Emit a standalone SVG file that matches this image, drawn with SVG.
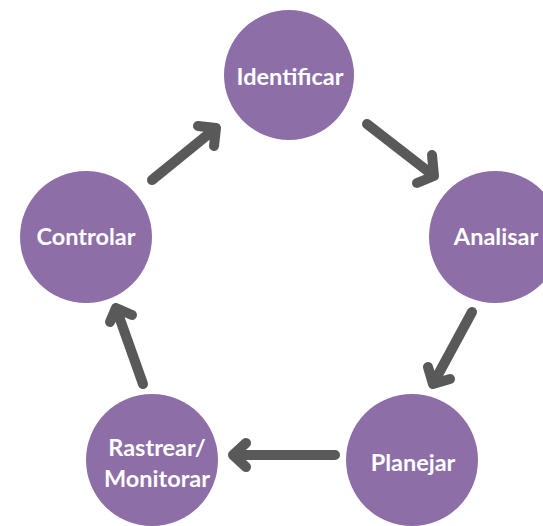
<svg xmlns="http://www.w3.org/2000/svg" width="543" height="526" viewBox="0 0 543 526">
<style>
.n{fill:#8d6ea7}
.t{fill:#ffffff;font-family:Lato,"Open Sans",sans-serif;font-weight:bold;font-size:23.5px;text-anchor:middle}
.a{fill:none;stroke:#595959;stroke-width:10;stroke-linecap:round;stroke-linejoin:round}
</style>
<rect width="543" height="526" fill="#ffffff"/>
<g id="connectors">
<path class="a" d="M152,180 L216,128 M198,126 L216,128 L214,146"/>
<path class="a" d="M367,124 L434,176 M417,183 L434,176 L432,155"/>
<path class="a" d="M472,312 L433,384 M428,367 L433,384 L450,379"/>
<path class="a" d="M335,455 L233,455 M246,443 L233,455 L246,467"/>
<path class="a" d="M143,384 L116,308 M110,322 L116,308 L132,315"/>
</g>
<g id="identificar"><circle class="n" cx="289" cy="75" r="65"/><text class="t" x="290" y="85">Identificar</text></g>
<g id="analisar"><circle class="n" cx="495" cy="237" r="66"/><text class="t" x="496" y="245">Analisar</text></g>
<g id="planejar"><circle class="n" cx="412" cy="460" r="66"/><text class="t" x="413" y="471">Planejar</text></g>
<g id="rastrear"><circle class="n" cx="152" cy="460" r="66"/><text class="t" x="157" y="456">Rastrear/</text><text class="t" x="157" y="487">Monitorar</text></g>
<g id="controlar"><circle class="n" cx="86" cy="237" r="66"/><text class="t" x="86" y="245">Controlar</text></g>
</svg>
